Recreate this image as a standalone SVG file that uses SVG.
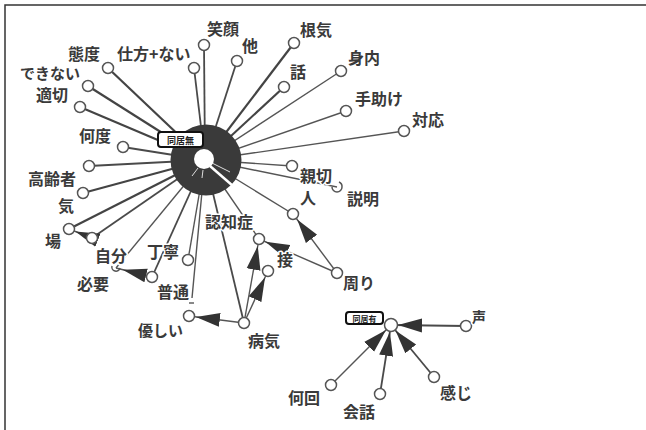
<svg xmlns="http://www.w3.org/2000/svg" width="646" height="430" viewBox="0 0 646 430">
<style>
.bg{fill:#fff}
.frame{stroke:#333;stroke-width:1.5;fill:none}
.e{stroke:#555;stroke-width:1.4;fill:none}
.t{stroke:#444;stroke-width:2.2;fill:none}
.m{stroke:#4a4a4a;stroke-width:1.8;fill:none}
.n{fill:#fff;stroke:#555;stroke-width:1.5}
.hk{fill:none;stroke:#555;stroke-width:1.5}
.lb{font-family:"Noto Sans CJK JP","Noto Sans CJK SC",sans-serif;font-size:16px;font-weight:bold;fill:#3a3a3a;stroke:#fff;stroke-width:3;paint-order:stroke;stroke-linejoin:round}
.hb{fill:#fff;stroke:#111;stroke-width:2}
.ht{font-family:"Noto Sans CJK JP",sans-serif;font-size:9px;font-weight:bold;fill:#222}
</style>
<defs>
<marker id="ar" markerUnits="userSpaceOnUse" markerWidth="40" markerHeight="16" viewBox="0 0 40 16" refX="31" refY="8" orient="auto">
<path d="M0,1 L24,8 L0,15 z" fill="#333"/>
</marker>
</defs>
<rect class="bg" x="0" y="0" width="646" height="430"/>
<path class="frame" d="M5,430 V5 H646"/>
<g id="connectors">
<line class="t" x1="205" y1="160" x2="108" y2="68"/>
<line class="t" x1="205" y1="160" x2="88" y2="86"/>
<line class="t" x1="205" y1="160" x2="80" y2="107"/>
<line class="m" x1="205" y1="160" x2="194" y2="68"/>
<line class="m" x1="205" y1="160" x2="204" y2="45"/>
<line class="m" x1="205" y1="160" x2="237" y2="61"/>
<line class="t" x1="205" y1="160" x2="294" y2="43"/>
<line class="t" x1="205" y1="160" x2="284" y2="87"/>
<line class="e" x1="205" y1="160" x2="341" y2="71"/>
<line class="e" x1="205" y1="160" x2="346" y2="111"/>
<line class="e" x1="205" y1="160" x2="404" y2="131"/>
<line class="e" x1="205" y1="160" x2="292" y2="166"/>
<line class="e" x1="205" y1="160" x2="337" y2="187"/>
<line class="e" x1="205" y1="160" x2="293" y2="214"/>
<line class="m" x1="205" y1="160" x2="123" y2="147"/>
<line class="m" x1="205" y1="160" x2="89" y2="166"/>
<line class="t" x1="205" y1="160" x2="83" y2="193"/>
<line class="t" x1="205" y1="160" x2="69" y2="229"/>
<line class="m" x1="205" y1="160" x2="92" y2="238"/>
<line class="e" x1="205" y1="160" x2="116" y2="268"/>
<line class="m" x1="205" y1="160" x2="152" y2="277"/>
<line class="e" x1="205" y1="160" x2="188" y2="260"/>
<line class="e" x1="205" y1="160" x2="192" y2="298"/>
<line class="e" x1="189" y1="303" x2="194" y2="303"/>
<line class="m" x1="205" y1="160" x2="244" y2="323"/>
<line class="e" x1="205" y1="160" x2="259" y2="239"/>
<line class="e" x1="92" y1="238" x2="69" y2="229" marker-end="url(#ar)"/>
<line class="e" x1="152" y1="277" x2="116" y2="268" marker-end="url(#ar)"/>
<line class="e" x1="244" y1="323" x2="189" y2="316" marker-end="url(#ar)"/>
<line class="e" x1="244" y1="323" x2="259" y2="239" marker-end="url(#ar)"/>
<line class="e" x1="244" y1="323" x2="268" y2="271" marker-end="url(#ar)"/>
<line class="e" x1="337" y1="273" x2="259" y2="239" marker-end="url(#ar)"/>
<line class="e" x1="337" y1="273" x2="293" y2="214" marker-end="url(#ar)"/>
<line class="m" x1="466" y1="326" x2="391" y2="325" marker-end="url(#ar)"/>
<line class="m" x1="434" y1="377" x2="391" y2="325" marker-end="url(#ar)"/>
<line class="m" x1="380" y1="394" x2="391" y2="325" marker-end="url(#ar)"/>
<line class="e" x1="331" y1="385" x2="391" y2="325" marker-end="url(#ar)"/>
</g>
<g id="hub1">
<circle cx="206" cy="160" r="35.5" fill="#3a3a3a"/>
<line x1="210" y1="166" x2="233" y2="186" stroke="#fff" stroke-width="2.5"/>
<line x1="212" y1="163" x2="230" y2="172" stroke="#ddd" stroke-width="1"/>
<line x1="198" y1="168" x2="192" y2="176" stroke="#ddd" stroke-width="1"/>
<line x1="203" y1="170" x2="202" y2="178" stroke="#ddd" stroke-width="1"/>
<circle cx="204" cy="159" r="10" fill="#fff"/>
<rect class="hb" x="158" y="132" width="45" height="15" rx="3"/>
<text class="ht" x="180.5" y="143.5" text-anchor="middle">同居無</text>
</g>
<g id="n-taido"><circle class="n" cx="108" cy="68" r="5.5"/><text class="lb" x="68" y="60">態度</text></g>
<g id="n-dekinai"><circle class="n" cx="88" cy="86" r="5.5"/><text class="lb" x="20" y="79" style="font-size:15px">できない</text></g>
<g id="n-tekisetsu"><circle class="n" cx="80" cy="107" r="5.5"/><text class="lb" x="36" y="101">適切</text></g>
<g id="n-shikata"><circle class="n" cx="194" cy="68" r="5.5"/><text class="lb" x="117" y="60">仕方+ない</text></g>
<g id="n-egao"><circle class="n" cx="204" cy="45" r="5.5"/><text class="lb" x="207" y="35">笑顔</text></g>
<g id="n-ta"><circle class="n" cx="237" cy="61" r="5.5"/><text class="lb" x="242" y="52">他</text></g>
<g id="n-konki"><circle class="n" cx="294" cy="43" r="5.5"/><text class="lb" x="300" y="36">根気</text></g>
<g id="n-hanashi"><circle class="n" cx="284" cy="87" r="5.5"/><text class="lb" x="290" y="78">話</text></g>
<g id="n-miuchi"><circle class="n" cx="341" cy="71" r="5.5"/><text class="lb" x="348" y="64">身内</text></g>
<g id="n-tedasuke"><circle class="n" cx="346" cy="111" r="5.5"/><text class="lb" x="355" y="105">手助け</text></g>
<g id="n-taiou"><circle class="n" cx="404" cy="131" r="5.5"/><text class="lb" x="412" y="126">対応</text></g>
<g id="n-shinsetsu"><circle class="n" cx="292" cy="166" r="5.5"/><text class="lb" x="300" y="182">親切</text></g>
<g id="n-setsumei"><path class="hk" d="M332,187 A5,5 0 0 0 342,187 A5,5 0 0 0 339,182"/><text class="lb" x="347" y="205">説明</text></g>
<g id="n-hito"><circle class="n" cx="293" cy="214" r="5.5"/><text class="lb" x="300" y="204">人</text></g>
<g id="n-nando"><circle class="n" cx="123" cy="147" r="5.5"/><text class="lb" x="79" y="142">何度</text></g>
<g id="n-koureisha"><circle class="n" cx="89" cy="166" r="5.5"/><text class="lb" x="28" y="185">高齢者</text></g>
<g id="n-ki"><circle class="n" cx="83" cy="193" r="5.5"/><text class="lb" x="58" y="212">気</text></g>
<g id="n-ba"><circle class="n" cx="69" cy="229" r="5.5"/><text class="lb" x="45" y="247">場</text></g>
<g id="n-jibun"><circle class="n" cx="92" cy="238" r="5.5"/><text class="lb" x="95" y="262">自分</text></g>
<g id="n-hitsuyou"><path class="hk" d="M112,266 A4,4 0 0 0 120,268"/><circle class="n" cx="152" cy="277" r="5.5"/><text class="lb" x="77" y="290">必要</text></g>
<g id="n-teinei"><circle class="n" cx="188" cy="260" r="5.5"/><text class="lb" x="147" y="258">丁寧</text></g>
<g id="n-futsuu"><text class="lb" x="157" y="298">普通</text></g>
<g id="n-yasashii"><circle class="n" cx="189" cy="316" r="5.5"/><text class="lb" x="138" y="336" style="font-size:15px">優しい</text></g>
<g id="n-byouki"><circle class="n" cx="244" cy="323" r="5.5"/><text class="lb" x="248" y="347">病気</text></g>
<g id="n-ninchishou"><circle class="n" cx="259" cy="239" r="5.5"/><text class="lb" x="205" y="228">認知症</text></g>
<g id="n-setsu"><circle class="n" cx="268" cy="271" r="5.5"/><text class="lb" x="277" y="266">接</text></g>
<g id="n-mawari"><circle class="n" cx="337" cy="273" r="5.5"/><text class="lb" x="343" y="289">周り</text></g>
<g id="hub2">
<circle class="n" cx="391" cy="325" r="6.5"/>
<rect class="hb" x="346" y="312" width="37" height="12" rx="3"/>
<text class="ht" x="364.5" y="321.5" text-anchor="middle" style="font-size:8px">同居有</text>
</g>
<g id="n-koe"><circle class="n" cx="466" cy="326" r="5.5"/><text class="lb" x="472" y="322" style="font-size:14px">声</text></g>
<g id="n-kanji"><circle class="n" cx="434" cy="377" r="5.5"/><text class="lb" x="440" y="399">感じ</text></g>
<g id="n-kaiwa"><circle class="n" cx="380" cy="394" r="5.5"/><text class="lb" x="343" y="418">会話</text></g>
<g id="n-nankai"><circle class="n" cx="331" cy="385" r="5.5"/><text class="lb" x="288" y="404">何回</text></g>
</svg>
